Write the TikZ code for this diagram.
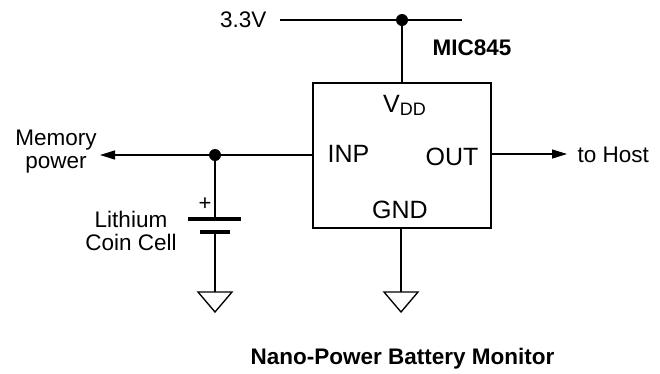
\documentclass[tikz,border=0pt]{standalone}
\usepackage{fontspec}
\setmainfont{Liberation Sans}
\usetikzlibrary{arrows.meta}
\begin{document}
\begin{tikzpicture}[x=1pt,y=-1pt,line width=1.35pt,
  lbl/.style={inner sep=0pt,font=\fontsize{22.5}{23}\selectfont},
  pinlbl/.style={inner sep=0pt,font=\fontsize{25}{28}\selectfont},
  boldlbl/.style={inner sep=0pt,font=\fontsize{22.5}{26}\selectfont\bfseries},
  junction/.style={circle,fill=black,inner sep=0pt,minimum size=12pt},
  chip/.style={draw,rectangle,inner sep=0pt,minimum width=178pt,minimum height=145pt},
  plate/.style={line width=4.2pt},
  arr/.style={-{Triangle[length=15pt,width=9pt]}}]
\useasboundingbox (0,0) rectangle (660,373);

% chip
\node[chip] (ic) at (402,155.5) {};
\node[boldlbl,anchor=west] (mic) at (432,48) {MIC845};
\node[pinlbl,anchor=base] (vdd) at (404.5,112) {V\raisebox{-3pt}{\fontsize{18}{18}\selectfont DD}};
\node[pinlbl,anchor=base west] (inp) at (327,162) {INP};
\node[pinlbl,anchor=base west] (out) at (425,165) {OUT};
\node[pinlbl,anchor=base] (gnd) at (400,218) {GND};

% supply rail
\node[lbl,anchor=east] (v33) at (267,20) {3.3V};
\coordinate (railL) at (280,20);
\coordinate (railR) at (462,20);
\node[junction] (jtop) at (402,20) {};
\draw (railL) -- (railR);
\draw (jtop.center) -- (jtop.center |- ic.north);

% left side
\coordinate (inpin) at (ic.west |- 0,155);
\node[junction] (jl) at (215,155) {};
\coordinate (memtip) at (100,155);
\draw[arr] (inpin) -- (memtip);
\node[lbl,align=center] (mem) at (56,152) {Memory\\power};

% battery
\coordinate (bt) at (215,219);
\coordinate (bb) at (215,232);
\draw (jl.center) -- (bt);
\draw[plate] ([xshift=-27pt]bt) -- ([xshift=26pt]bt);
\draw[plate] ([xshift=-15pt]bb) -- ([xshift=15pt]bb);
\node[lbl,font=\fontsize{22}{22}\selectfont] (plus) at (205,204) {+};
\node[lbl,align=center] (cell) at (131,230.5) {Lithium\\Coin Cell};
\coordinate (g1) at (215,292);
\draw (bb) -- (g1);
\draw (g1) ++(-17,0) -- ++(34,0) -- ++(-17,20) -- cycle;

% ground of chip
\coordinate (g2) at (401,292);
\draw (ic.south -| g2) -- (g2);
\draw (g2) ++(-17,0) -- ++(34,0) -- ++(-17,20) -- cycle;

% output
\coordinate (outpin) at (ic.east |- 0,154);
\coordinate (hosttip) at (567,154);
\draw[arr] (outpin) -- (hosttip);
\node[lbl,anchor=west] (host) at (577,155) {to Host};

% title
\node[boldlbl] (title) at (402.5,359) {Nano-Power Battery Monitor};
\end{tikzpicture}
\end{document}
